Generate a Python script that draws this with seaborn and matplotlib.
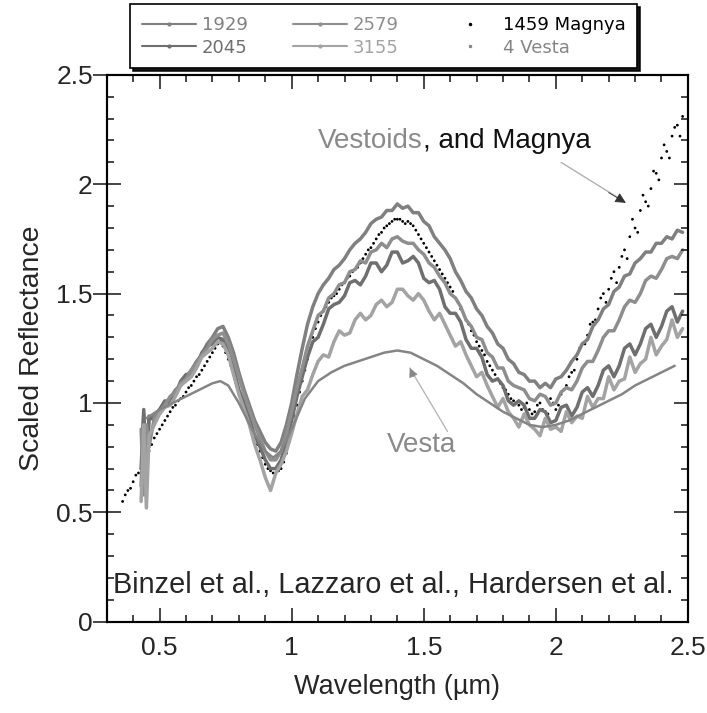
import numpy as np
import pandas as pd
import seaborn as sns
import matplotlib
matplotlib.use("Agg")
import matplotlib.pyplot as plt
from matplotlib.lines import Line2D
from matplotlib.ticker import MultipleLocator, FuncFormatter

# wavelength grid (um) for the four vestoid spectra
wl = [0.43, 0.44, 0.45, 0.46,
      0.48, 0.50, 0.52, 0.54, 0.56, 0.58, 0.60, 0.62, 0.64, 0.66, 0.68, 0.70, 0.72, 0.74, 0.76, 0.78,
      0.80, 0.82, 0.84, 0.86, 0.88, 0.90, 0.92, 0.94, 0.96, 0.98, 1.00, 1.02, 1.04, 1.06, 1.08, 1.10,
      1.12, 1.14, 1.16, 1.18, 1.20, 1.22, 1.24, 1.26, 1.28, 1.30, 1.32, 1.34, 1.36, 1.38, 1.40, 1.42,
      1.44, 1.46, 1.48, 1.50, 1.52, 1.54, 1.56, 1.58, 1.60, 1.62, 1.64, 1.66, 1.68, 1.70, 1.72, 1.74,
      1.76, 1.78, 1.80, 1.82, 1.84, 1.86, 1.88, 1.90, 1.92, 1.94, 1.96, 1.98, 2.00, 2.02, 2.04, 2.06,
      2.08, 2.10, 2.12, 2.14, 2.16, 2.18, 2.20, 2.22, 2.24, 2.26, 2.28, 2.30, 2.32, 2.34, 2.36, 2.38,
      2.40, 2.42, 2.44, 2.46, 2.48]

v1929 = [0.62, 0.95, 0.72, 0.93,
         0.94, 0.97, 1.00, 1.02, 1.06, 1.08, 1.12, 1.15, 1.19, 1.22, 1.27, 1.30, 1.34, 1.35, 1.30, 1.23,
         1.14, 1.06, 0.99, 0.92, 0.87, 0.82, 0.79, 0.78, 0.82, 0.90, 1.00, 1.13, 1.25, 1.36, 1.44, 1.50,
         1.54, 1.57, 1.61, 1.63, 1.66, 1.70, 1.73, 1.75, 1.78, 1.82, 1.84, 1.85, 1.88, 1.88, 1.91, 1.89,
         1.90, 1.87, 1.87, 1.83, 1.81, 1.76, 1.73, 1.70, 1.66, 1.60, 1.56, 1.51, 1.48, 1.43, 1.40, 1.35,
         1.32, 1.27, 1.25, 1.20, 1.18, 1.14, 1.13, 1.10, 1.10, 1.07, 1.09, 1.07, 1.11, 1.12, 1.15, 1.19,
         1.22, 1.27, 1.29, 1.35, 1.38, 1.43, 1.45, 1.51, 1.53, 1.58, 1.59, 1.64, 1.66, 1.69, 1.69, 1.73,
         1.73, 1.76, 1.75, 1.79, 1.78]
v2045 = [0.70, 0.97, 0.62, 0.94,
         0.92, 0.97, 1.01, 1.00, 1.04, 1.10, 1.13, 1.13, 1.17, 1.23, 1.26, 1.27, 1.30, 1.29, 1.24, 1.16,
         1.06, 1.00, 0.93, 0.85, 0.80, 0.74, 0.70, 0.70, 0.74, 0.82, 0.92, 1.03, 1.12, 1.21, 1.28, 1.30,
         1.36, 1.43, 1.45, 1.46, 1.49, 1.55, 1.56, 1.54, 1.58, 1.64, 1.64, 1.60, 1.63, 1.69, 1.69, 1.64,
         1.65, 1.67, 1.64, 1.57, 1.55, 1.56, 1.52, 1.44, 1.41, 1.41, 1.37, 1.29, 1.25, 1.25, 1.21, 1.13,
         1.10, 1.11, 1.08, 1.01, 0.99, 1.01, 0.99, 0.93, 0.93, 0.97, 0.96, 0.91, 0.92, 0.98, 0.99, 0.94,
         0.98, 1.05, 1.07, 1.03, 1.08, 1.15, 1.17, 1.12, 1.17, 1.25, 1.27, 1.22, 1.27, 1.34, 1.36, 1.30,
         1.35, 1.42, 1.44, 1.37, 1.42]
v2579 = [0.88, 0.58, 0.90, 0.80,
         0.93, 0.96, 0.99, 1.03, 1.05, 1.09, 1.11, 1.15, 1.18, 1.22, 1.25, 1.29, 1.31, 1.32, 1.27, 1.20,
         1.12, 1.04, 0.97, 0.90, 0.84, 0.78, 0.74, 0.74, 0.78, 0.86, 0.96, 1.07, 1.16, 1.26, 1.33, 1.40,
         1.42, 1.48, 1.50, 1.54, 1.55, 1.60, 1.61, 1.65, 1.64, 1.69, 1.70, 1.73, 1.71, 1.75, 1.76, 1.74,
         1.73, 1.73, 1.70, 1.68, 1.64, 1.62, 1.58, 1.55, 1.50, 1.48, 1.44, 1.38, 1.35, 1.30, 1.29, 1.23,
         1.21, 1.16, 1.16, 1.10, 1.08, 1.07, 1.06, 1.02, 1.01, 1.04, 1.03, 0.99, 1.00, 1.05, 1.07, 1.06,
         1.10, 1.16, 1.19, 1.19, 1.24, 1.30, 1.33, 1.33, 1.38, 1.44, 1.47, 1.46, 1.50, 1.56, 1.58, 1.57,
         1.61, 1.66, 1.67, 1.66, 1.70]
v3155 = [0.55, 0.90, 0.52, 0.85,
         0.90, 0.95, 0.98, 0.99, 1.03, 1.08, 1.10, 1.12, 1.16, 1.21, 1.23, 1.25, 1.28, 1.27, 1.22, 1.13,
         1.04, 0.97, 0.90, 0.81, 0.74, 0.66, 0.60, 0.68, 0.72, 0.78, 0.86, 0.95, 1.03, 1.06, 1.13, 1.19,
         1.22, 1.21, 1.28, 1.33, 1.31, 1.32, 1.38, 1.41, 1.38, 1.40, 1.45, 1.47, 1.44, 1.46, 1.52, 1.52,
         1.49, 1.47, 1.50, 1.47, 1.42, 1.38, 1.41, 1.36, 1.31, 1.26, 1.28, 1.22, 1.17, 1.12, 1.14, 1.08,
         1.03, 0.98, 1.02, 0.96, 0.93, 0.89, 0.95, 0.90, 0.88, 0.85, 0.93, 0.88, 0.89, 0.87, 0.96, 0.91,
         0.94, 0.93, 1.03, 0.98, 1.02, 1.02, 1.12, 1.06, 1.10, 1.11, 1.21, 1.14, 1.18, 1.20, 1.30, 1.22,
         1.26, 1.29, 1.38, 1.30, 1.34]

# 4 Vesta (smooth)
vesta_wl = [0.45, 0.50, 0.55, 0.60, 0.65, 0.70, 0.73, 0.76, 0.80, 0.85, 0.90, 0.93, 0.96, 1.00,
            1.05, 1.10, 1.15, 1.20, 1.25, 1.30, 1.35, 1.40, 1.45, 1.50, 1.55, 1.60, 1.65, 1.70,
            1.75, 1.80, 1.85, 1.90, 1.95, 2.00, 2.05, 2.10, 2.15, 2.20, 2.25, 2.30, 2.35, 2.40, 2.45]
vesta = [0.93, 0.97, 1.00, 1.03, 1.06, 1.09, 1.10, 1.08, 1.00, 0.88, 0.78, 0.75, 0.78, 0.88,
         1.02, 1.10, 1.14, 1.17, 1.19, 1.21, 1.23, 1.24, 1.23, 1.20, 1.17, 1.13, 1.09, 1.04,
         1.00, 0.96, 0.93, 0.90, 0.89, 0.90, 0.92, 0.95, 0.98, 1.01, 1.04, 1.08, 1.11, 1.14, 1.17]

# 1459 Magnya (dots), even and odd hundredths
magnya_wl = [0.36, 0.38, 0.40, 0.42, 0.44, 0.46, 0.48, 0.50, 0.52, 0.54, 0.56, 0.58, 0.60, 0.62,
             0.64, 0.66, 0.68, 0.70, 0.72, 0.74, 0.76, 0.78, 0.80, 0.82, 0.84, 0.86, 0.88, 0.90,
             0.92, 0.94, 0.96, 0.98, 1.00, 1.02, 1.04, 1.06, 1.08, 1.10, 1.12, 1.14, 1.16, 1.18,
             1.20, 1.22, 1.24, 1.26, 1.28, 1.30, 1.32, 1.34, 1.36, 1.38, 1.40, 1.42, 1.44, 1.46,
             1.48, 1.50, 1.52, 1.54, 1.56, 1.58, 1.60, 1.62, 1.64, 1.66, 1.68, 1.70, 1.72, 1.74,
             1.76, 1.78, 1.80, 1.82, 1.84, 1.86, 1.88, 1.90, 1.92, 1.94, 1.96, 1.98, 2.00, 2.02,
             2.04, 2.06, 2.08, 2.10, 2.12, 2.14, 2.16, 2.18, 2.20, 2.22, 2.24, 2.26, 2.28, 2.30,
             2.32, 2.34, 2.36, 2.38, 2.40, 2.42, 2.44, 2.46, 2.48]
magnya = [0.55, 0.60, 0.64, 0.68, 0.73, 0.78, 0.84, 0.88, 0.92, 0.96, 0.99, 1.02, 1.05, 1.08,
          1.12, 1.15, 1.19, 1.23, 1.27, 1.26, 1.20, 1.13, 1.05, 0.98, 0.91, 0.84, 0.78, 0.72,
          0.69, 0.68, 0.70, 0.77, 0.88, 0.99, 1.10, 1.20, 1.30, 1.37, 1.42, 1.46, 1.49, 1.52,
          1.55, 1.58, 1.61, 1.64, 1.68, 1.71, 1.75, 1.78, 1.81, 1.83, 1.84, 1.83, 1.83, 1.81,
          1.77, 1.73, 1.69, 1.65, 1.61, 1.57, 1.53, 1.48, 1.43, 1.38, 1.33, 1.28, 1.24, 1.19,
          1.15, 1.11, 1.07, 1.04, 1.01, 0.99, 0.98, 0.97, 0.96, 1.00, 0.96, 1.02, 0.97, 1.04,
          1.08, 1.14, 1.20, 1.27, 1.31, 1.37, 1.43, 1.50, 1.52, 1.60, 1.62, 1.70, 1.76, 1.80,
          1.88, 1.92, 1.98, 2.05, 2.12, 2.15, 2.22, 2.27, 2.31]
magnya_wl_b = [0.37, 0.39, 0.41, 0.43, 0.45, 0.47, 0.49, 0.51, 0.53, 0.55, 0.57, 0.59, 0.61, 0.63,
               0.65, 0.67, 0.69, 0.71, 0.73, 0.75, 0.77, 0.79, 0.81, 0.83, 0.85, 0.87, 0.89, 0.91,
               0.93, 0.95, 0.97, 0.99, 1.01, 1.03, 1.05, 1.07, 1.09, 1.11, 1.13, 1.15, 1.17, 1.19,
               1.21, 1.23, 1.25, 1.27, 1.29, 1.31, 1.33, 1.35, 1.37, 1.39, 1.41, 1.43, 1.45, 1.47,
               1.49, 1.51, 1.53, 1.55, 1.57, 1.59, 1.61, 1.63, 1.65, 1.67, 1.69, 1.71, 1.73, 1.75,
               1.77, 1.79, 1.81, 1.83, 1.85, 1.87, 1.89, 1.91, 1.93, 1.95, 1.97, 1.99, 2.01, 2.03,
               2.05, 2.07, 2.09, 2.11, 2.13, 2.15, 2.17, 2.19, 2.21, 2.23, 2.25, 2.27, 2.29, 2.31,
               2.33, 2.35, 2.37, 2.39, 2.41, 2.43, 2.45, 2.47]
magnya_b = [0.58, 0.61, 0.67, 0.70, 0.76, 0.81, 0.86, 0.90, 0.94, 0.98, 1.01, 1.03, 1.07, 1.10,
            1.13, 1.17, 1.21, 1.25, 1.28, 1.23, 1.17, 1.09, 1.01, 0.94, 0.87, 0.81, 0.75, 0.70,
            0.68, 0.69, 0.73, 0.82, 0.94, 1.05, 1.15, 1.25, 1.34, 1.40, 1.44, 1.48, 1.50, 1.54,
            1.57, 1.60, 1.62, 1.66, 1.70, 1.73, 1.77, 1.80, 1.82, 1.84, 1.84, 1.82, 1.82, 1.79,
            1.75, 1.71, 1.67, 1.63, 1.59, 1.55, 1.51, 1.46, 1.41, 1.36, 1.31, 1.26, 1.22, 1.17,
            1.13, 1.09, 1.06, 1.02, 1.00, 0.97, 1.00, 0.95, 0.99, 0.97, 0.95, 1.00, 0.99, 1.06,
            1.12, 1.15, 1.25, 1.27, 1.36, 1.38, 1.48, 1.46, 1.57, 1.55, 1.67, 1.66, 1.84, 1.78,
            1.95, 1.90, 2.06, 2.02, 2.18, 2.12, 2.26, 2.22]

names = ["1929", "2045", "2579", "3155"]
colors = {"1929": "#808080", "2045": "#6f6f6f", "2579": "#8e8e8e", "3155": "#a3a3a3"}
vesta_color = "#858585"

df = pd.concat([
    pd.DataFrame({"wl": wl, "refl": v1929, "ast": "1929"}),
    pd.DataFrame({"wl": wl, "refl": v2045, "ast": "2045"}),
    pd.DataFrame({"wl": wl, "refl": v2579, "ast": "2579"}),
    pd.DataFrame({"wl": wl, "refl": v3155, "ast": "3155"}),
])
df_vesta = pd.DataFrame({"wl": vesta_wl, "refl": vesta})
df_magnya = pd.concat([pd.DataFrame({"wl": magnya_wl, "refl": magnya}),
                       pd.DataFrame({"wl": magnya_wl_b, "refl": magnya_b})])

sns.set_style("ticks")
plt.rcParams["font.family"] = ["Liberation Sans", "DejaVu Sans"]

fig = plt.figure(figsize=(7.07, 7.13), dpi=100)
ax = fig.add_axes([0.151, 0.128, 0.822, 0.767])

sns.lineplot(data=df, x="wl", y="refl", hue="ast", palette=colors, sort=False,
             estimator=None, lw=2.5, legend=False, ax=ax)
sns.lineplot(data=df_vesta, x="wl", y="refl", color=vesta_color, lw=1.8, sort=False,
             estimator=None, ax=ax)
sns.scatterplot(data=df_magnya, x="wl", y="refl", color="black", s=4, edgecolor="none", ax=ax)

ax.set_xlim(0.3, 2.5)
ax.set_ylim(0, 2.5)
fmt = FuncFormatter(lambda v, p: "%g" % v)
for a in (ax.xaxis, ax.yaxis):
    a.set_major_locator(MultipleLocator(0.5))
    a.set_minor_locator(MultipleLocator(0.1))
    a.set_major_formatter(fmt)
ax.tick_params(which="both", top=True, right=False, width=1.2, labelsize=19)
ax.tick_params(axis="x", which="both", direction="in", pad=10)
ax.tick_params(axis="x", which="major", length=10)
ax.tick_params(axis="x", which="minor", length=5)
ax.tick_params(axis="y", which="major", direction="inout", length=20, pad=0)
ax.tick_params(axis="y", which="minor", direction="in", length=5)

# right-hand ticks point inward only
axr = ax.twinx()
axr.set_ylim(0, 2.5)
axr.yaxis.set_major_locator(MultipleLocator(0.5))
axr.yaxis.set_minor_locator(MultipleLocator(0.1))
axr.tick_params(which="both", direction="in", width=1.2, labelright=False)
axr.tick_params(which="major", length=10)
axr.tick_params(which="minor", length=5)
for a in (ax, axr):
    for s in a.spines.values():
        s.set_linewidth(1.5)
        s.set_color("black")

ax.set_xlabel("Wavelength (µm)", fontsize=19.5, labelpad=10)
ax.set_ylabel("Scaled Reflectance", fontsize=20.5, labelpad=8)

ax.text(1.385, 0.17, "Binzel et al., Lazzaro et al., Hardersen et al.", fontsize=20.8,
        ha="center", va="center")

# annotations
t1 = ax.text(1.10, 2.14, "Vestoids", color="#8a8a8a", fontsize=20, ha="left", va="bottom")
ax.annotate(", and Magnya", xy=(1, 0), xycoords=t1, color="#111111", fontsize=20,
            ha="left", va="bottom")
ax.annotate("", xy=(2.26, 1.92), xytext=(2.02, 2.10),
            arrowprops=dict(arrowstyle="-", color="#b0b0b0", lw=1, shrinkA=0, shrinkB=0))
ax.annotate("", xy=(2.265, 1.915), xytext=(2.20, 1.962),
            arrowprops=dict(arrowstyle="-|>", color="#333333", lw=0.6, mutation_scale=16,
                            shrinkA=0, shrinkB=0))
ax.text(1.49, 0.81, "Vesta", color="#8a8a8a", fontsize=20, ha="center", va="center")
ax.annotate("", xy=(1.447, 1.16), xytext=(1.59, 0.87),
            arrowprops=dict(arrowstyle="-", color="#b8b8b8", lw=1, shrinkA=0, shrinkB=0))
ax.annotate("", xy=(1.447, 1.16), xytext=(1.462, 1.12),
            arrowprops=dict(arrowstyle="-|>", color="#888888", lw=0.6, mutation_scale=14,
                            shrinkA=0, shrinkB=0))

# legend
handles = [Line2D([], [], color=colors[n], lw=1.5, marker=".", markersize=4) for n in names]
handles += [Line2D([], [], color="black", ls="none", marker=".", markersize=3),
            Line2D([], [], color=vesta_color, ls="none", marker=".", markersize=3)]
labels = names + ["1459 Magnya", "4 Vesta"]
label_colors = [colors[n] for n in names] + ["black", vesta_color]
leg = fig.legend(handles, labels, loc="center", bbox_to_anchor=(0.543, 0.949), ncol=3,
                 labelcolor=label_colors, frameon=True, fancybox=False,
                 shadow={"facecolor": "black", "edgecolor": "black", "alpha": 0.9},
                 edgecolor="black", handlelength=3.0, handletextpad=0.3, columnspacing=2.5,
                 labelspacing=0.25, borderpad=0.65, prop={"family": "DejaVu Sans", "size": 13})
leg.get_frame().set_linewidth(1.2)

fig.savefig("out.png", dpi=100)
